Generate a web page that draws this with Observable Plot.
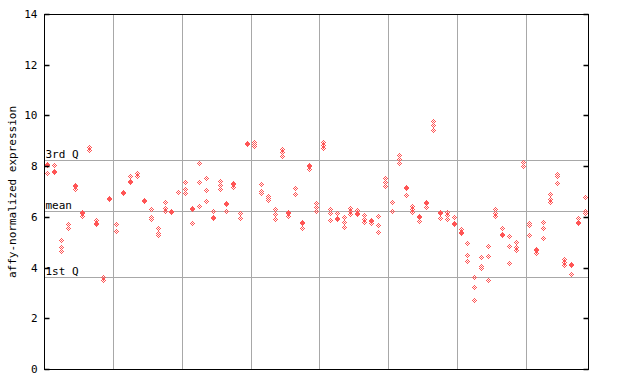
<!DOCTYPE html>
<html><head><meta charset="utf-8">
<script src="https://cdn.jsdelivr.net/npm/d3@7"></script>
<script src="https://cdn.jsdelivr.net/npm/@observablehq/plot@0.6"></script>
<style>
body{margin:0;background:#fff}
svg{font-family:"DejaVu Sans Mono",monospace}
</style>
</head><body><div id="chart"></div>
<script>
// ---- data ----
const yLabel = "affy-normalized expression";
const yTicks = [0, 2, 4, 6, 8, 10, 12, 14];
const groupSize = 10;
const refLabels = ["3rd Q", "mean", "1st Q"];
const refValues = [8.23, 6.23, 3.63];
const replicates = [
  [8.07, 8.03, 7.72], [8.06, 7.80, 7.76], [5.09, 4.80, 4.66], [5.70, 5.58], [7.25, 7.21, 7.10],
  [6.20, 6.16, 6.03], [8.74, 8.64], [5.88, 5.74, 5.70], [3.64, 3.50], [6.76, 6.71],
  [5.72, 5.44], [6.98, 6.93], [7.60, 7.43, 7.39], [7.73, 7.62], [6.65, 6.61],
  [6.30, 6.00, 5.92], [5.55, 5.38, 5.28], [6.57, 6.33, 6.25], [6.22, 6.18], [6.97],
  [7.36, 7.08, 6.94], [6.36, 6.30, 5.75], [8.11, 7.37, 6.42], [7.52, 7.05, 6.61], [6.23, 5.98, 5.94],
  [7.43, 7.27, 7.11], [6.54, 6.50, 6.23], [7.32, 7.28, 7.18], [6.15, 5.94], [8.91, 8.87],
  [8.97, 8.87, 8.78], [7.29, 7.03, 6.94], [6.84, 6.74, 6.66], [6.30, 6.10, 5.92], [8.68, 8.55, 8.40],
  [6.21, 6.17, 6.02], [7.12, 6.89], [5.78, 5.74, 5.55], [8.04, 8.00, 7.90], [6.56, 6.40, 6.25],
  [8.97, 8.83, 8.71], [6.30, 6.15, 5.88], [6.14, 5.94, 5.90], [5.98, 5.80, 5.60], [6.34, 6.22, 6.11],
  [6.28, 6.16, 6.12], [6.07, 5.92, 5.80], [5.88, 5.82, 5.74], [6.03, 5.66, 5.39], [7.52, 7.38, 7.22],
  [6.59, 6.23], [8.44, 8.30, 8.12], [7.16, 7.12, 6.85], [6.44, 6.31, 6.20], [6.05, 6.01, 5.85],
  [6.57, 6.53, 6.40], [9.78, 9.62, 9.41], [6.18, 6.14, 5.94], [6.21, 6.07, 5.90], [5.98, 5.74, 5.70],
  [5.51, 5.42, 5.38], [4.96, 4.48, 4.25], [3.62, 3.22, 2.71], [4.41, 4.07, 3.97], [4.84, 4.44, 3.50],
  [6.30, 6.17, 6.03], [5.58, 5.31, 5.27], [5.23, 4.84, 4.17], [5.00, 4.83, 4.71], [8.18, 8.00],
  [5.75, 5.66, 5.27], [4.75, 4.71, 4.56], [5.79, 5.58, 5.16], [6.89, 6.72, 6.57], [7.70, 7.62, 7.32],
  [4.33, 4.22, 4.12], [4.14, 4.10, 3.74], [5.94, 5.79, 5.75], [6.77, 6.22, 6.16]
];

// ---- derived tables ----
const sampleCount = replicates.length;
const points = replicates.flatMap((vals, i) => vals.map(v => ({sample: i, value: v})));
const refs = refLabels.map((label, i) => ({label, value: refValues[i]}));
const xDomain = [-0.5, sampleCount - 0.5];
const groupBreaks = d3.range(groupSize, sampleCount, groupSize).map(k => k - 0.5);

const RED = "#ff5555";
const GREY = "#a8a8a8";

// checkered pixel diamond glyph
const pixelDiamond = {
  draw(ctx) {
    for (let j = -2; j <= 2; j++)
      for (let i = -2; i <= 2; i++)
        if (Math.abs(i) + Math.abs(j) <= 2 && (i + j) % 2 === 0) ctx.rect(i - 0.5, j - 0.5, 1, 1);
  }
};
const tickIn = {draw(ctx) { ctx.moveTo(0, 0); ctx.lineTo(5, 0); }};
const tickInR = {draw(ctx) { ctx.moveTo(-5, 0); ctx.lineTo(0, 0); }};

const chart = Plot.plot({
  width: 640, height: 384,
  marginLeft: 44, marginRight: 52, marginTop: 14, marginBottom: 15,
  style: {fontFamily: "DejaVu Sans Mono, monospace", fontSize: "11px", background: "#fff", color: "black"},
  x: {domain: xDomain, axis: null, round: true},
  y: {domain: [0, 14], ticks: yTicks, tickSize: 0, tickPadding: 7, label: null, round: true, tickFormat: d => d},
  marks: [
    Plot.ruleX(groupBreaks, {stroke: GREY, strokeWidth: 1}),
    Plot.ruleY(refs, {y: "value", stroke: GREY, strokeWidth: 1}),
    Plot.dot(points, {x: "sample", y: "value", symbol: pixelDiamond, fill: RED, stroke: "none", r: 3, shapeRendering: "crispEdges"}),
    Plot.frame({stroke: "black"}),
    Plot.dot(yTicks, {x: () => xDomain[0], y: d => d, symbol: tickIn, stroke: "black", fill: "none"}),
    Plot.dot(yTicks, {x: () => xDomain[1], y: d => d, symbol: tickInR, stroke: "black", fill: "none"}),
    Plot.text(refs, {y: "value", text: "label", frameAnchor: "left", textAnchor: "start", dx: 1, dy: -6, fill: "black"}),
    Plot.text([yLabel], {frameAnchor: "left", rotate: -90, dx: -32, textAnchor: "middle", fill: "black"})
  ]
});
document.getElementById("chart").appendChild(chart);
</script>
</body></html>
